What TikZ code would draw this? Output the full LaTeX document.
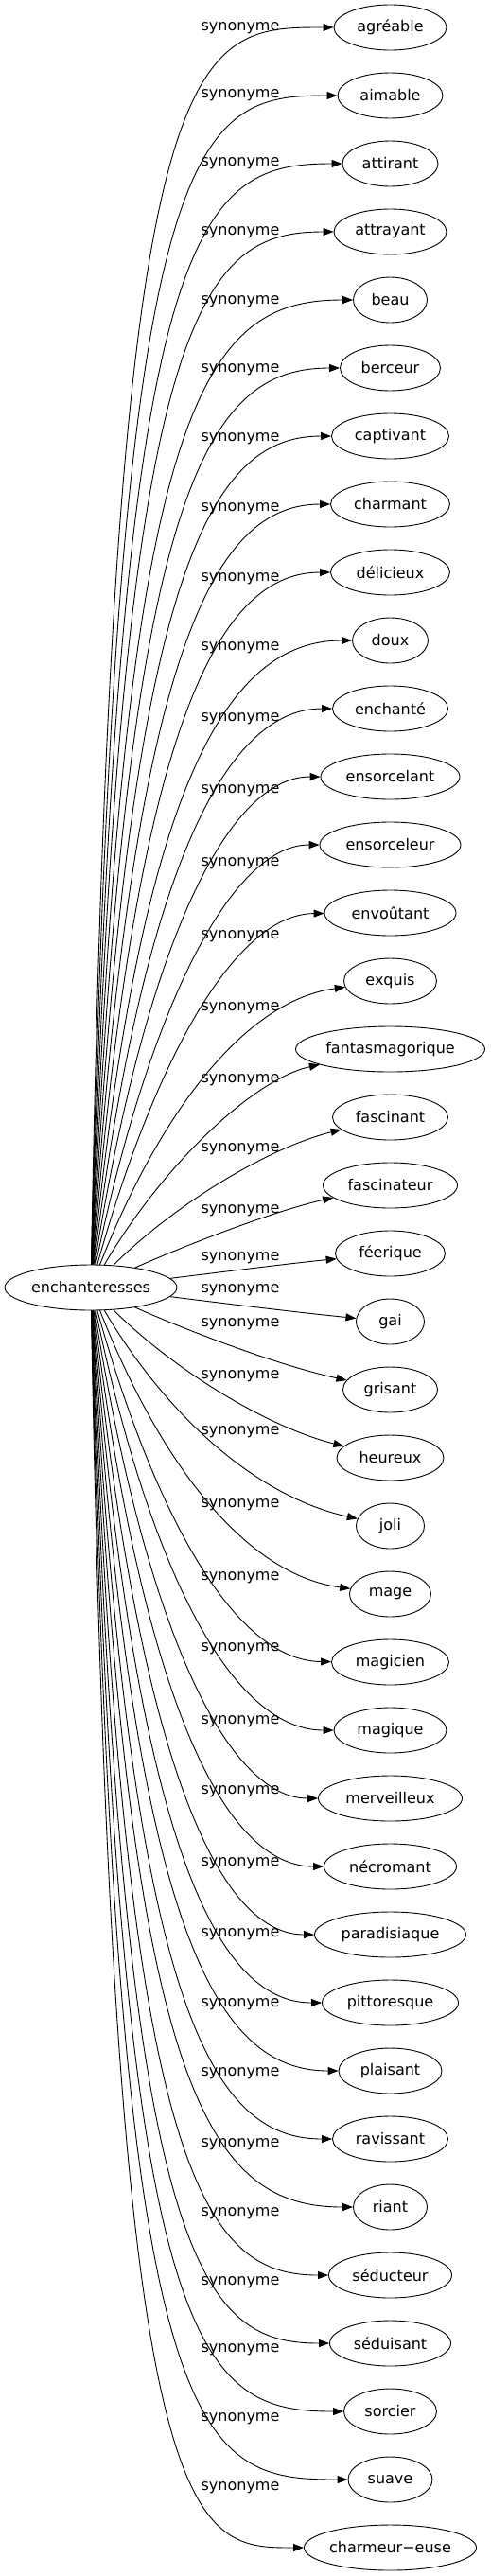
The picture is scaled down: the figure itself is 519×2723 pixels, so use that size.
\documentclass[tikz,border=0pt]{standalone}
\usepackage{fontspec}
\setmainfont{DejaVu Sans}
\usetikzlibrary{shapes.geometric,arrows.meta}
\begin{document}
\begin{tikzpicture}[x=1pt,y=-1pt,
  every node/.style={font=\fontsize{16pt}{19pt}\selectfont},
  tgt/.style={draw, ellipse, line width=0.9pt, inner sep=0pt, minimum height=48pt},
  lab/.style={inner sep=0pt},
  edge/.style={draw, line width=0.9pt, -{Triangle[length=11pt,width=8pt]}}]
\useasboundingbox (0,0) rectangle (519,2723);
\node[tgt, minimum width=182pt] (c) at (96,1361) {enchanteresses};
\foreach \i/\w/\txt/\yl in {
 1/119/agréable/30, 2/111/aimable/101, 3/101/attirant/173, 4/119/attrayant/246,
 5/78/beau/319, 6/106/berceur/391, 7/124/captivant/464, 8/126/charmant/538,
 9/126/délicieux/612, 10/80/doux/685, 11/122/enchanté/760, 12/147/ensorcelant/836,
 13/149/ensorceleur/913, 14/139/envoûtant/990, 15/98/exquis/1066,
 16/200/fantasmagorique/1142, 17/122/fascinant/1215, 18/142/fascinateur/1280,
 19/116/féerique/1330, 20/72/gai/1364, 21/100/grisant/1400, 22/113/heureux/1455,
 23/72/joli/1514, 24/86/mage/1591, 25/124/magicien/1668, 26/119/magique/1743,
 27/152/merveilleux/1820, 28/140/nécromant/1894, 29/160/paradisiaque/1970,
 30/144/pittoresque/2045, 31/109/plaisant/2119, 32/122/ravissant/2192,
 33/78/riant/2267, 34/130/séducteur/2340, 35/128/séduisant/2413,
 36/98/sorcier/2484, 37/89/suave/2557, 38/181/charmeur−euse/2630}{
  \pgfmathsetmacro\yT{29+72*(\i-1)}
  \pgfmathsetmacro\dY{\yT-1361}
  \pgfmathsetmacro\pS{abs(\dY)/1332}
  \pgfmathsetmacro\pH{pow(max(\pS-0.06,0.0001)/0.94,0.6)}
  \pgfmathsetmacro\pG{min(1,\pS/0.3)}
  \pgfmathsetmacro\xA{201-81*\pH}
  \pgfmathsetmacro\yA{1361+(1/3+2/3*\pH)*\dY}
  \pgfmathsetmacro\xB{307-57*\pG-50*max(0,(\pS-0.333)/0.667)}
  \pgfmathsetmacro\yB{\yT-(1-\pG)/3*\dY}
  \node[tgt, minimum width=\w pt] (n\i) at (412.5,\yT) {\txt};
  \node[lab] (l\i) at (254,\yl) {synonyme};
  \draw[edge] (c) .. controls (\xA,\yA) and (\xB,\yB) .. (n\i);
}
\end{tikzpicture}
\end{document}
